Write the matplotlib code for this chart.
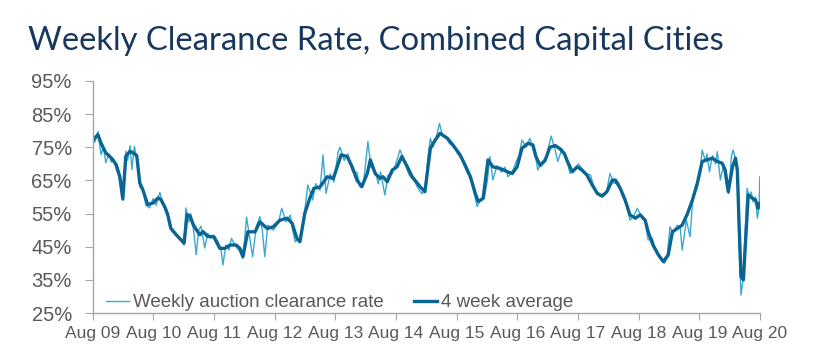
import matplotlib
matplotlib.use("Agg")
import matplotlib.pyplot as plt

# time as decimal years, values in %
avg_t = [2009.58, 2009.67, 2009.72, 2009.80, 2009.89, 2009.97, 2010.03, 2010.08, 2010.13, 2010.20,
         2010.25, 2010.31, 2010.36, 2010.41, 2010.49, 2010.58, 2010.66, 2010.71, 2010.78, 2010.82,
         2010.87, 2010.96, 2011.09, 2011.14, 2011.19, 2011.24, 2011.29, 2011.35, 2011.40, 2011.48,
         2011.58, 2011.68, 2011.76, 2011.85, 2011.95, 2012.01, 2012.06, 2012.14, 2012.26, 2012.34,
         2012.46, 2012.56, 2012.67, 2012.79, 2012.87, 2012.95, 2013.00, 2013.08, 2013.17, 2013.23,
         2013.33, 2013.45, 2013.55, 2013.68, 2013.78, 2013.86, 2013.94, 2014.02, 2014.11, 2014.16,
         2014.24, 2014.32, 2014.37, 2014.44, 2014.52, 2014.60, 2014.68, 2014.77, 2014.85, 2014.98,
         2015.06, 2015.15, 2015.23, 2015.31, 2015.43, 2015.52, 2015.64, 2015.72, 2015.81, 2015.89,
         2015.94, 2016.02, 2016.10, 2016.18, 2016.30, 2016.42, 2016.50, 2016.58, 2016.66, 2016.76,
         2016.84, 2016.89, 2016.96, 2017.04, 2017.12, 2017.21, 2017.29, 2017.36, 2017.41, 2017.49,
         2017.57, 2017.65, 2017.73, 2017.82, 2017.90, 2017.98, 2018.06, 2018.15, 2018.20, 2018.28,
         2018.36, 2018.44, 2018.53, 2018.61, 2018.69, 2018.74, 2018.82, 2018.91, 2018.99, 2019.07,
         2019.14, 2019.22, 2019.30, 2019.38, 2019.47, 2019.55, 2019.63, 2019.71, 2019.80, 2019.88,
         2019.96, 2020.01, 2020.06, 2020.13, 2020.18, 2020.21, 2020.24, 2020.27, 2020.31, 2020.34,
         2020.39, 2020.46, 2020.51, 2020.55, 2020.58]
avg_v = [77.0, 78.8, 76.3, 73.3, 71.8, 69.8, 66.2, 59.4, 72.3, 73.8,
         73.3, 72.5, 64.2, 62.2, 57.7, 58.2, 59.7, 59.2, 56.7, 54.7,
         50.6, 48.6, 46.1, 54.7, 54.2, 51.7, 50.2, 48.6, 49.6, 48.1,
         48.0, 44.5, 44.5, 45.5, 45.5, 44.5, 42.0, 49.5, 49.5, 52.5,
         50.5, 51.0, 53.0, 53.6, 52.1, 47.5, 46.5, 55.1, 60.0, 62.6,
         63.0, 66.1, 65.6, 72.7, 72.2, 69.1, 65.1, 63.1, 67.1, 71.2,
         67.1, 65.6, 66.1, 64.6, 68.1, 69.1, 72.2, 69.1, 66.1, 63.1,
         61.6, 74.7, 77.2, 79.2, 77.7, 75.7, 72.7, 69.7, 66.1, 61.1,
         58.6, 59.6, 71.2, 69.1, 68.6, 67.6, 67.1, 69.1, 74.7, 76.2,
         75.7, 72.2, 69.5, 71.0, 75.0, 75.5, 74.5, 73.0, 70.7, 67.6,
         69.1, 68.1, 66.6, 63.6, 61.1, 60.3, 61.6, 65.1, 65.1, 62.6,
         59.1, 54.6, 53.6, 54.6, 53.0, 49.5, 45.5, 42.5, 40.5, 42.5,
         49.5, 50.5, 51.5, 54.6, 59.1, 64.1, 70.7, 71.2, 71.7, 70.7,
         70.2, 68.1, 61.6, 69.1, 71.7, 68.1, 51.0, 36.0, 35.0, 45.0,
         60.6, 59.6, 59.1, 56.6, 58.1]

weekly_t = [2009.58, 2009.62, 2009.67, 2009.72, 2009.76, 2009.80, 2009.85, 2009.89, 2009.93, 2009.97,
            2010.02, 2010.08, 2010.13, 2010.16, 2010.20, 2010.23, 2010.27, 2010.31, 2010.36, 2010.41,
            2010.46, 2010.52, 2010.58, 2010.63, 2010.69, 2010.74, 2010.79, 2010.84, 2010.89, 2010.96,
            2011.02, 2011.09, 2011.12, 2011.17, 2011.20, 2011.25, 2011.29, 2011.33, 2011.37, 2011.43,
            2011.48, 2011.53, 2011.58, 2011.65, 2011.70, 2011.73, 2011.78, 2011.83, 2011.87, 2011.95,
            2012.01, 2012.06, 2012.12, 2012.17, 2012.22, 2012.28, 2012.34, 2012.38, 2012.42, 2012.47,
            2012.56, 2012.64, 2012.70, 2012.77, 2012.84, 2012.88, 2012.92, 2012.99, 2013.04, 2013.08,
            2013.13, 2013.21, 2013.26, 2013.33, 2013.38, 2013.43, 2013.50, 2013.56, 2013.63, 2013.66,
            2013.73, 2013.79, 2013.86, 2013.94, 2013.99, 2014.05, 2014.12, 2014.17, 2014.24, 2014.29,
            2014.33, 2014.40, 2014.45, 2014.52, 2014.58, 2014.65, 2014.72, 2014.78, 2014.82, 2014.88,
            2014.95, 2015.01, 2015.06, 2015.11, 2015.15, 2015.19, 2015.24, 2015.30, 2015.35, 2015.41,
            2015.47, 2015.54, 2015.60, 2015.67, 2015.74, 2015.81, 2015.86, 2015.92, 2015.97, 2016.04,
            2016.09, 2016.13, 2016.18, 2016.25, 2016.32, 2016.38, 2016.43, 2016.50, 2016.56, 2016.61,
            2016.66, 2016.73, 2016.79, 2016.84, 2016.89, 2016.92, 2016.99, 2017.06, 2017.14, 2017.21,
            2017.25, 2017.32, 2017.39, 2017.45, 2017.52, 2017.59, 2017.65, 2017.72, 2017.79, 2017.85,
            2017.92, 2017.98, 2018.05, 2018.11, 2018.18, 2018.25, 2018.31, 2018.38, 2018.44, 2018.51,
            2018.56, 2018.63, 2018.69, 2018.74, 2018.81, 2018.87, 2018.94, 2019.01, 2019.05, 2019.10,
            2019.15, 2019.22, 2019.27, 2019.30, 2019.37, 2019.43, 2019.48, 2019.55, 2019.60, 2019.63,
            2019.68, 2019.71, 2019.75, 2019.80, 2019.85, 2019.88, 2019.93, 2019.98, 2020.03, 2020.07,
            2020.11, 2020.14, 2020.18, 2020.21, 2020.24, 2020.27, 2020.31, 2020.34, 2020.37, 2020.41,
            2020.44, 2020.47, 2020.51, 2020.54, 2020.57, 2020.58]
weekly_v = [77.5, 76.5, 79.8, 72.8, 75.0, 70.3, 73.0, 70.5, 71.5, 68.5,
            66.0, 59.0, 73.8, 71.0, 75.5, 68.3, 75.3, 71.5, 63.0, 62.5,
            57.5, 56.7, 59.5, 57.5, 61.4, 58.0, 55.5, 54.0, 49.5, 49.0,
            47.5, 45.5, 56.7, 52.5, 55.0, 49.5, 42.6, 50.0, 51.2, 44.6,
            49.0, 47.5, 48.5, 46.5, 44.0, 39.5, 45.5, 44.0, 47.5, 45.0,
            43.5, 41.5, 53.9, 48.0, 42.0, 51.0, 54.1, 50.0, 42.0, 51.5,
            50.0, 52.0, 56.6, 52.5, 54.5, 50.0, 46.5, 47.5, 51.0, 56.0,
            63.6, 59.1, 64.0, 62.0, 72.7, 61.1, 67.0, 64.5, 73.7, 75.0,
            71.0, 73.0, 68.0, 67.4, 63.0, 64.5, 76.7, 69.0, 68.0, 64.0,
            67.5, 60.6, 66.5, 67.0, 70.0, 74.2, 71.0, 67.5, 66.1, 65.0,
            62.5, 61.0, 62.0, 72.0, 77.7, 75.0, 77.5, 82.2, 78.5, 78.0,
            76.0, 75.5, 73.0, 71.5, 68.0, 65.5, 62.0, 57.1, 59.0, 60.0,
            65.0, 72.2, 65.1, 69.5, 67.5, 69.0, 66.1, 67.5, 70.5, 72.5,
            77.2, 75.0, 77.7, 74.5, 71.5, 68.1, 70.5, 72.0, 78.4, 74.0,
            70.7, 74.5, 72.0, 67.1, 68.0, 70.0, 68.5, 67.0, 66.6, 62.5,
            60.5, 60.0, 61.0, 67.1, 64.0, 64.5, 61.0, 57.5, 53.0, 54.5,
            56.6, 54.0, 52.5, 47.0, 47.5, 43.5, 41.5, 40.0, 41.5, 51.0,
            49.0, 51.5, 50.5, 44.0, 53.0, 48.0, 60.5, 63.0, 68.5, 74.2,
            71.0, 73.0, 67.6, 72.5, 70.0, 73.7, 65.1, 69.5, 63.5, 61.0,
            72.0, 74.2, 71.5, 66.0, 45.0, 30.4, 36.0, 50.0, 62.6, 60.0,
            61.5, 58.5, 60.0, 53.6, 57.0, 66.1]

tick_years = list(range(2009, 2021))
tick_labels = ["Aug %02d" % (y % 100) for y in tick_years]
y_ticks = [25, 35, 45, 55, 65, 75, 85, 95]

grey = "#595959"
fig = plt.figure(figsize=(8.15, 3.63), dpi=100)
ax = fig.add_axes([0.1137, 0.1377, 0.8188, 0.6393])

ax.plot(weekly_t, weekly_v, color="#3AA9D0", lw=1.0, label="Weekly auction clearance rate")
ax.plot(avg_t, avg_v, color="#0A6592", lw=2.4, label="4 week average",
        solid_joinstyle="round")

ax.set_xlim(2009 + 7 / 12, 2020 + 7 / 12)
ax.set_ylim(25, 95)
ax.set_xticks([y + 7 / 12 for y in tick_years])
ax.set_xticklabels(tick_labels)
ax.set_yticks(y_ticks)
ax.set_yticklabels(["%d%%" % v for v in y_ticks])

for s in ["top", "right"]:
    ax.spines[s].set_visible(False)
for s in ["left", "bottom"]:
    ax.spines[s].set_color("#A6A6A6")
    ax.spines[s].set_linewidth(1.0)
ax.tick_params(axis="y", colors="#A6A6A6", length=6, labelcolor=grey, labelsize=14.5, pad=9)
ax.tick_params(axis="x", colors="#A6A6A6", length=5, labelcolor=grey, labelsize=12.5, pad=4)
for lab in ax.get_xticklabels() + ax.get_yticklabels():
    lab.set_family("Liberation Sans")

leg = ax.legend(loc="lower left", ncol=2, frameon=False, handlelength=1.2, handletextpad=0.25,
                columnspacing=1.6, bbox_to_anchor=(-0.005, -0.065),
                prop={"family": "Liberation Sans", "size": 13.5})
for t in leg.get_texts():
    t.set_color(grey)

fig.text(0.034, 0.862, "Weekly Clearance Rate, Combined Capital Cities", color="#17375E",
         fontsize=23.6, family="Lato")

fig.savefig("out.png", dpi=100)
